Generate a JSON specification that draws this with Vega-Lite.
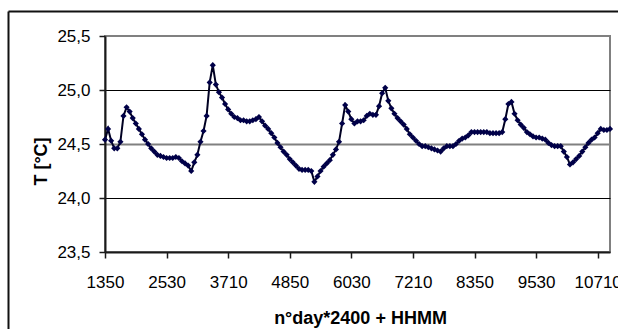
{
  "$schema": "https://vega.github.io/schema/vega-lite/v6.json",
  "autosize": "none",
  "width": 505,
  "height": 216,
  "padding": {"left": 105, "top": 36, "right": 8, "bottom": 77},
  "background": "white",
  "config": {
    "view": {"stroke": "#808080", "strokeWidth": 2},
    "font": "Liberation Sans"
  },
  "data": {"values": [
    {"code":1350,"T":24.54},{"code":1425,"T":24.64},{"code":1500,"T":24.53},{"code":1535,"T":24.46},{"code":1610,"T":24.46},
    {"code":1645,"T":24.52},{"code":1720,"T":24.76},{"code":1755,"T":24.84},{"code":1830,"T":24.80},{"code":1905,"T":24.74},
    {"code":1940,"T":24.69},{"code":2015,"T":24.64},{"code":2050,"T":24.59},{"code":2125,"T":24.54},{"code":2200,"T":24.50},
    {"code":2235,"T":24.46},{"code":2310,"T":24.43},{"code":2345,"T":24.40},{"code":2420,"T":24.39},{"code":2455,"T":24.38},
    {"code":2530,"T":24.37},{"code":2605,"T":24.37},{"code":2640,"T":24.37},{"code":2715,"T":24.38},{"code":2750,"T":24.37},
    {"code":2825,"T":24.34},{"code":2900,"T":24.32},{"code":2935,"T":24.30},{"code":3010,"T":24.25},{"code":3045,"T":24.33},
    {"code":3120,"T":24.40},{"code":3155,"T":24.52},{"code":3230,"T":24.62},{"code":3305,"T":24.76},{"code":3340,"T":25.07},
    {"code":3415,"T":25.23},{"code":3450,"T":25.05},{"code":3525,"T":24.98},{"code":3600,"T":24.93},{"code":3635,"T":24.87},
    {"code":3710,"T":24.82},{"code":3745,"T":24.78},{"code":3820,"T":24.75},{"code":3855,"T":24.74},{"code":3930,"T":24.72},
    {"code":4005,"T":24.72},{"code":4040,"T":24.71},{"code":4115,"T":24.71},{"code":4150,"T":24.72},{"code":4225,"T":24.73},
    {"code":4300,"T":24.75},{"code":4335,"T":24.71},{"code":4410,"T":24.67},{"code":4445,"T":24.64},{"code":4520,"T":24.60},
    {"code":4555,"T":24.56},{"code":4630,"T":24.51},{"code":4705,"T":24.47},{"code":4740,"T":24.43},{"code":4815,"T":24.40},
    {"code":4850,"T":24.36},{"code":4925,"T":24.33},{"code":5000,"T":24.30},{"code":5035,"T":24.27},{"code":5110,"T":24.26},
    {"code":5145,"T":24.26},{"code":5220,"T":24.26},{"code":5255,"T":24.25},{"code":5330,"T":24.15},{"code":5405,"T":24.20},
    {"code":5440,"T":24.25},{"code":5515,"T":24.29},{"code":5550,"T":24.32},{"code":5625,"T":24.35},{"code":5700,"T":24.40},
    {"code":5735,"T":24.45},{"code":5810,"T":24.52},{"code":5845,"T":24.69},{"code":5920,"T":24.86},{"code":5955,"T":24.80},
    {"code":6030,"T":24.73},{"code":6105,"T":24.69},{"code":6140,"T":24.71},{"code":6215,"T":24.71},{"code":6250,"T":24.72},
    {"code":6325,"T":24.76},{"code":6400,"T":24.78},{"code":6435,"T":24.77},{"code":6510,"T":24.77},{"code":6545,"T":24.85},
    {"code":6620,"T":24.97},{"code":6655,"T":25.02},{"code":6730,"T":24.90},{"code":6805,"T":24.83},{"code":6840,"T":24.78},
    {"code":6915,"T":24.74},{"code":6950,"T":24.71},{"code":7025,"T":24.68},{"code":7100,"T":24.64},{"code":7135,"T":24.59},
    {"code":7210,"T":24.56},{"code":7245,"T":24.53},{"code":7320,"T":24.50},{"code":7355,"T":24.48},{"code":7430,"T":24.48},
    {"code":7505,"T":24.47},{"code":7540,"T":24.46},{"code":7615,"T":24.45},{"code":7650,"T":24.44},{"code":7725,"T":24.43},
    {"code":7800,"T":24.46},{"code":7835,"T":24.48},{"code":7910,"T":24.48},{"code":7945,"T":24.48},{"code":8020,"T":24.50},
    {"code":8055,"T":24.53},{"code":8130,"T":24.55},{"code":8205,"T":24.56},{"code":8240,"T":24.58},{"code":8315,"T":24.61},
    {"code":8350,"T":24.61},{"code":8425,"T":24.61},{"code":8500,"T":24.61},{"code":8535,"T":24.61},{"code":8610,"T":24.61},
    {"code":8645,"T":24.60},{"code":8720,"T":24.60},{"code":8755,"T":24.60},{"code":8830,"T":24.60},{"code":8905,"T":24.61},
    {"code":8940,"T":24.73},{"code":9015,"T":24.87},{"code":9050,"T":24.89},{"code":9125,"T":24.78},{"code":9200,"T":24.72},
    {"code":9235,"T":24.68},{"code":9310,"T":24.65},{"code":9345,"T":24.61},{"code":9420,"T":24.59},{"code":9455,"T":24.57},
    {"code":9530,"T":24.56},{"code":9605,"T":24.56},{"code":9640,"T":24.55},{"code":9715,"T":24.54},{"code":9750,"T":24.51},
    {"code":9825,"T":24.49},{"code":9900,"T":24.48},{"code":9935,"T":24.48},{"code":10010,"T":24.48},{"code":10045,"T":24.43},
    {"code":10120,"T":24.38},{"code":10155,"T":24.31},{"code":10230,"T":24.33},{"code":10305,"T":24.36},{"code":10340,"T":24.39},
    {"code":10415,"T":24.43},{"code":10450,"T":24.47},{"code":10525,"T":24.51},{"code":10600,"T":24.54},{"code":10635,"T":24.56},
    {"code":10710,"T":24.60},{"code":10745,"T":24.64},{"code":10820,"T":24.63},{"code":10855,"T":24.63},{"code":10930,"T":24.64}
  ]},
  "layer": [
    {
      "mark": {"type": "line", "color": "#000022", "strokeWidth": 2,
               "point": {"shape": "diamond", "filled": true, "color": "#000048", "size": 38, "opacity": 1}},
      "encoding": {
        "x": {
          "field": "code", "type": "ordinal",
          "scale": {"type": "point", "padding": 0},
          "axis": {
            "values": [1350, 2530, 3710, 4850, 6030, 7210, 8350, 9530, 10710],
            "labelAngle": 0, "labelOverlap": false,
            "domainColor": "#1a1a1a", "domainWidth": 2,
            "tickColor": "#1a1a1a", "tickWidth": 1.5, "tickSize": 6,
            "labelFontSize": 17, "labelColor": "#000", "labelPadding": 16, "labelFont": "Liberation Sans",
            "title": "n°day*2400 + HHMM", "titleFontSize": 18, "titleFontWeight": "bold", "titleColor": "#000",
            "titleFont": "Liberation Sans", "titleBaseline": "alphabetic", "titleY": 71, "titleX": 255,
            "grid": false
          }
        },
        "y": {
          "field": "T", "type": "quantitative",
          "scale": {"domain": [23.5, 25.5], "nice": false, "zero": false},
          "axis": {
            "values": [23.5, 24, 24.5, 25, 25.5],
            "labelExpr": "replace(format(datum.value, '.1f'), '.', ',')",
            "domainColor": "#1a1a1a", "domainWidth": 2,
            "tickColor": "#1a1a1a", "tickWidth": 1.5, "tickSize": 6,
            "labelFontSize": 17, "labelColor": "#000", "labelPadding": 9, "labelFont": "Liberation Sans",
            "title": "T [°C]", "titleFontSize": 18, "titleFontWeight": "bold", "titleColor": "#000",
            "titleFont": "Liberation Sans", "titleY": 125, "titlePadding": 6,
            "grid": true,
            "gridColor": {"condition": {"test": "datum.value == 24.5", "value": "#808080"}, "value": "#000"},
            "gridWidth": {"condition": {"test": "datum.value == 24.5", "value": 2}, "value": 1},
            "gridOpacity": {"condition": {"test": "datum.value > 23.9 && datum.value < 25.1", "value": 1}, "value": 0}
          }
        }
      }
    },
    {
      "mark": {"type": "point", "opacity": 0},
      "encoding": {
        "x": {
          "field": "T", "type": "quantitative",
          "scale": {"domain": [0, 1], "range": [-97, 520], "zero": false, "nice": false},
          "axis": {"orient": "top", "offset": 25, "domainColor": "#111", "domainWidth": 2,
                   "ticks": false, "labels": false, "grid": false, "title": null}
        },
        "y": {
          "field": "T", "type": "quantitative",
          "scale": {"domain": [0, 1], "range": [300, -25], "zero": false, "nice": false},
          "axis": {"orient": "left", "offset": 97, "domainColor": "#111", "domainWidth": 2,
                   "ticks": false, "labels": false, "grid": false, "title": null}
        }
      }
    }
  ],
  "resolve": {"scale": {"x": "independent", "y": "independent"}, "axis": {"x": "independent", "y": "independent"}}
}
